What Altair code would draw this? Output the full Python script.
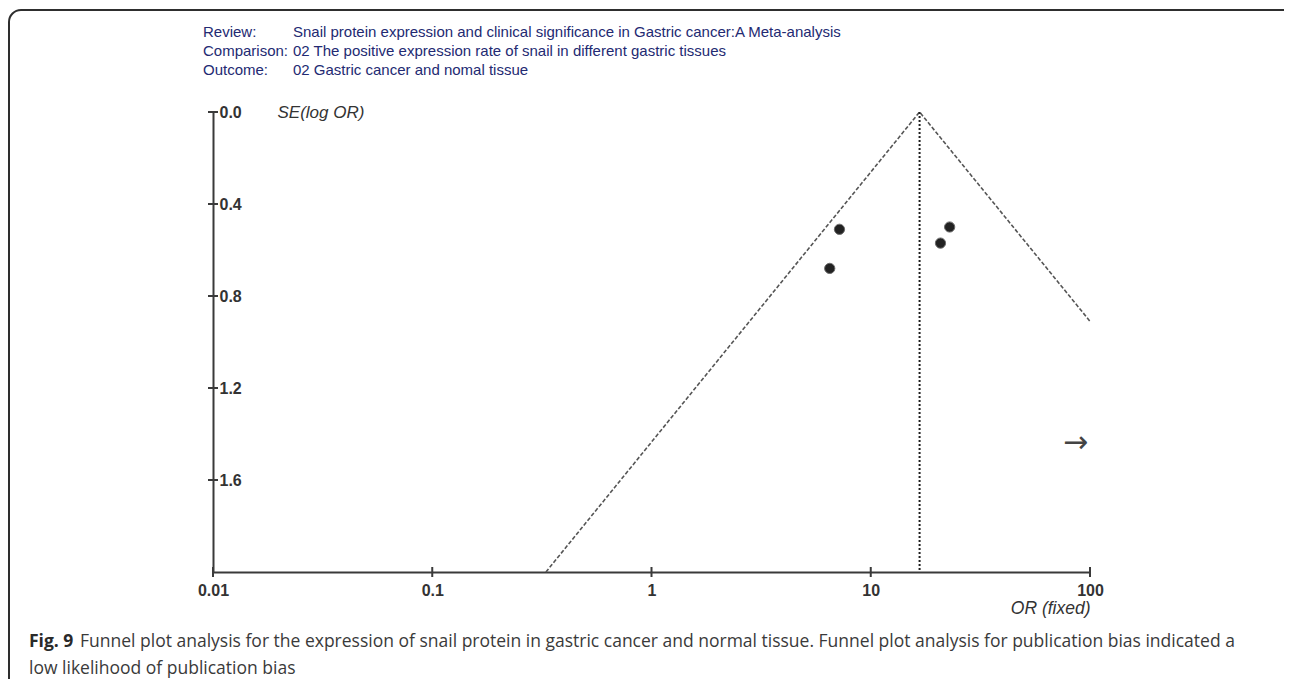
import altair as alt
import pandas as pd

# ---------------- data ----------------
study_or = [7.2, 6.5, 22.9, 20.8]
study_se = [0.51, 0.68, 0.50, 0.57]

pooled_or = [16.7]
pooled_se_top = [0.0]
pooled_se_bottom = [2.0]

funnel_or = [0.33, 16.7, 100.0]
funnel_se = [2.0, 0.0, 0.91]

arrow_or = [86.0]
arrow_se = [1.44]

x_ticks = [0.01, 0.1, 1, 10, 100]
y_ticks = [0.0, 0.4, 0.8, 1.2, 1.6]

header_keys = ["Review:", "Comparison:", "Outcome:"]
header_vals = [
    "Snail protein expression and clinical significance in Gastric cancer:A Meta-analysis",
    "02 The positive expression rate of snail in different gastric tissues",
    "02 Gastric cancer and nomal tissue",
]
caption_bold = "Fig. 9"
caption_lines = [
    "Funnel plot analysis for the expression of snail protein in gastric cancer and normal tissue. Funnel plot analysis for publication bias indicated a",
    "low likelihood of publication bias",
]

# ---------------- layout constants ----------------
W, H = 877, 460
PAD = {"left": 205, "top": 104, "right": 194, "bottom": 107}
AXIS_COLOR = "#3a3a3a"
HEAD_COLOR = "#232a72"
FONT = "Liberation Sans"
CAP_FONT = "Open Sans"

x_scale = alt.Scale(type="log", domain=[0.01, 100], nice=False)
y_scale = alt.Scale(domain=[0, 2], reverse=True, nice=False, zero=False)

x_axis = alt.Axis(
    values=x_ticks, format="~g", title="OR (fixed)", grid=False, ticks=False,
    titleX=W, titleY=36, titleAlign="right", titleBaseline="middle",
    titleFontStyle="italic", titleFontWeight="normal", titleFontSize=17.5,
    titleFont=FONT, titleColor="#333333",
    labelFont=FONT, labelFontWeight="bold", labelFontSize=16, labelColor="#333333",
    labelPadding=10, labelFlush=False, labelOverlap=False,
    domainColor=AXIS_COLOR, domainWidth=2,
)
y_axis = alt.Axis(
    values=y_ticks, format=".1f", title="SE(log OR)", grid=False, ticks=False,
    titleAngle=0, titleX=64, titleY=0, titleAlign="left", titleBaseline="middle",
    titleFontStyle="italic", titleFontWeight="normal", titleFontSize=17,
    titleFont=FONT, titleColor="#333333",
    labelFont=FONT, labelFontWeight="bold", labelFontSize=16, labelColor="#333333",
    labelAlign="left", labelBaseline="middle", labelPadding=-6, labelFlush=False,
    labelOverlap=False,
    domainColor=AXIS_COLOR, domainWidth=2,
)

# ---------------- frame ----------------
frame = alt.Chart(pd.DataFrame({"k": [0]})).mark_rect(
    cornerRadius=12, fillOpacity=0, stroke="#2e2e2e", strokeWidth=2
).encode(
    x=alt.value(-204), x2=alt.value(1120), y=alt.value(-102), y2=alt.value(700)
)

# ---------------- funnel and pooled line ----------------
funnel_df = pd.DataFrame({"or": funnel_or, "se": funnel_se, "o": [0, 1, 2]})
funnel = alt.Chart(funnel_df).mark_line(
    color="#555555", strokeWidth=1.6, strokeDash=[4, 2]
).encode(
    x=alt.X("or:Q", scale=x_scale, axis=x_axis),
    y=alt.Y("se:Q", scale=y_scale, axis=y_axis),
    order="o:Q",
)

pooled_df = pd.DataFrame({"or": pooled_or, "se": pooled_se_top, "se2": pooled_se_bottom})
pooled = alt.Chart(pooled_df).mark_rule(
    color="#1e1e1e", strokeWidth=2, strokeDash=[2, 2]
).encode(
    x=alt.X("or:Q", scale=x_scale),
    y=alt.Y("se:Q", scale=y_scale),
    y2="se2:Q",
)

# ---------------- crossing axis ticks ----------------
xt = alt.Chart(pd.DataFrame({"v": x_ticks})).mark_tick(
    orient="vertical", size=10, thickness=2, color=AXIS_COLOR, opacity=1
).encode(
    x=alt.X("v:Q", scale=x_scale),
    y=alt.datum(2.0, scale=y_scale),
)
yt = alt.Chart(pd.DataFrame({"v": y_ticks})).mark_tick(
    orient="horizontal", size=10, thickness=2, color=AXIS_COLOR, opacity=1
).encode(
    x=alt.datum(0.01, scale=x_scale),
    y=alt.Y("v:Q", scale=y_scale),
)

# ---------------- studies ----------------
study_df = pd.DataFrame({"or": study_or, "se": study_se})
studies = alt.Chart(study_df).mark_circle(
    size=105, color="#222222", opacity=1, stroke="#6a6a6a", strokeWidth=1
).encode(
    x=alt.X("or:Q", scale=x_scale),
    y=alt.Y("se:Q", scale=y_scale),
)

arrow_df = pd.DataFrame({"or": arrow_or, "se": arrow_se, "t": ["\u2192"]})
arrow = alt.Chart(arrow_df).mark_text(
    font="DejaVu Sans", fontSize=30, color="#444444", align="center", baseline="middle"
).encode(
    x=alt.X("or:Q", scale=x_scale),
    y=alt.Y("se:Q", scale=y_scale),
    text="t:N",
)

# ---------------- header text ----------------
head_rows_y = [-80, -61, -42]
header_layers = []
for key, val, yy in zip(header_keys, header_vals, head_rows_y):
    header_layers.append(
        alt.Chart(pd.DataFrame({"t": [key]})).mark_text(
            font=FONT, fontSize=15, color=HEAD_COLOR, align="left", baseline="middle"
        ).encode(text="t:N", x=alt.value(-10), y=alt.value(yy))
    )
    header_layers.append(
        alt.Chart(pd.DataFrame({"t": [val]})).mark_text(
            font=FONT, fontSize=15, color=HEAD_COLOR, align="left", baseline="middle"
        ).encode(text="t:N", x=alt.value(80), y=alt.value(yy))
    )

# ---------------- caption ----------------
cap_layers = [
    alt.Chart(pd.DataFrame({"t": [caption_bold]})).mark_text(
        font=CAP_FONT, fontSize=17.5, fontWeight="bold", color="#2a2a2a",
        align="left", baseline="middle"
    ).encode(text="t:N", x=alt.value(-184), y=alt.value(530)),
    alt.Chart(pd.DataFrame({"t": [caption_lines[0]]})).mark_text(
        font=CAP_FONT, fontSize=17.5, color="#3a3a3a", align="left", baseline="middle"
    ).encode(text="t:N", x=alt.value(-133), y=alt.value(530)),
    alt.Chart(pd.DataFrame({"t": [caption_lines[1]]})).mark_text(
        font=CAP_FONT, fontSize=17.5, color="#3a3a3a", align="left", baseline="middle"
    ).encode(text="t:N", x=alt.value(-184), y=alt.value(557)),
]

chart = alt.layer(
    frame, funnel, pooled, xt, yt, studies, arrow, *header_layers, *cap_layers
).properties(
    width=W, height=H, padding=PAD,
    autosize=alt.AutoSizeParams(type="none"),
    background="white",
).configure_view(strokeWidth=0)

chart.save("out.html", embed_options={"renderer": "svg", "actions": False})
